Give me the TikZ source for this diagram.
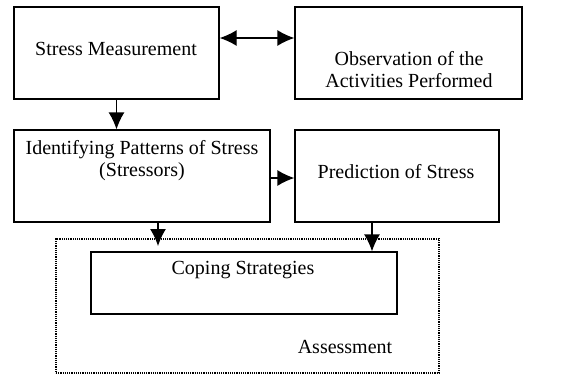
\documentclass[tikz,border=0pt]{standalone}
\usepackage{fontspec}
\setmainfont{Liberation Serif}
\usetikzlibrary{arrows.meta}
\begin{document}
\begin{tikzpicture}[x=0.5pt, y=-0.5pt, line width=0.65pt, >={Latex[length=8.5pt,width=8pt]},
        box/.style 2 args={draw, minimum width=#1*0.5pt, minimum height=#2*0.5pt, inner sep=0pt},
        lbl/.style={font=\fontsize{10}{11}\selectfont, align=center, inner sep=0pt}]
        \useasboundingbox (0,0) rectangle (561,376);
        \node[box={205}{92}] (meas) at (116.5,53) {};
        \node[box={227}{92}] (obs) at (408.5,53) {};
        \node[box={256}{92}] (ident) at (142,176) {};
        \node[box={204}{92}] (pred) at (397,176) {};
        \node[box={383}{134}, line width=0.6pt, dash pattern=on 0.6pt off 0.5pt] (assess) at (247.5,306) {};
        \node[box={306}{62}] (coping) at (244,283) {};
        \node[lbl] (measText) at (116,48.7) {Stress Measurement};
        \node[lbl] (obsText) at (409,70) {Observation of the\\Activities Performed};
        \node[lbl] (identText) at (142,161) {Identifying Patterns of Stress\\(Stressors)};
        \node[lbl] (predText) at (396,171.5) {Prediction of Stress};
        \node[lbl] (copingText) at (243,270.5) {Coping Strategies};
        \node[lbl] (assessText) at (345,346.5) {Assessment};
        \coordinate (tipA) at (158,246);
        \draw[<->] (meas.east |- 0,38) -- (obs.west |- 0,38);
        \draw[->] (meas.south) -- (meas.south |- ident.north);
        \draw[->] (ident.east |- 0,178) -- (pred.west |- 0,178);
        \draw[->] (ident.south -| tipA) -- (tipA);
        \draw[->] (pred.south -| 372,0) -- (coping.north -| 372,0);
\end{tikzpicture}
\end{document}
